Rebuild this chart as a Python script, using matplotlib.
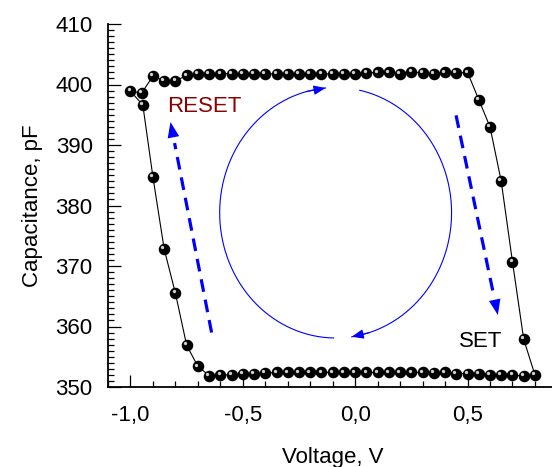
import numpy as np
from matplotlib import pyplot as plt
from matplotlib.ticker import MultipleLocator, FuncFormatter
from matplotlib.transforms import offset_copy

plt.rcParams['font.family'] = ['Liberation Sans', 'DejaVu Sans']

# C-V hysteresis loop (one full cycle).
voltage = [0.00, 0.05, 0.10, 0.15, 0.20, 0.25, 0.30, 0.35, 0.40, 0.45, 0.50,
           0.55, 0.60, 0.65, 0.70, 0.75, 0.80,
           0.75, 0.70, 0.65, 0.60, 0.55, 0.50, 0.45, 0.40, 0.35, 0.30, 0.25,
           0.20, 0.15, 0.10, 0.05, 0.00, -0.05, -0.10, -0.15, -0.20, -0.25,
           -0.30, -0.35, -0.40, -0.45, -0.50, -0.55, -0.60, -0.65,
           -0.70, -0.75, -0.80, -0.85, -0.90, -0.945, -1.00,
           -0.95, -0.90, -0.85, -0.80, -0.75, -0.70, -0.65, -0.60, -0.55,
           -0.50, -0.45, -0.40, -0.35, -0.30, -0.25, -0.20, -0.15, -0.10, -0.05]
capacitance = [401.8, 401.9, 402.0, 402.0, 401.7, 402.1, 401.9, 401.8, 402.0, 401.9, 402.0,
               397.5, 393.0, 384.0, 370.7, 357.9, 352.0,
               351.8, 352.0, 352.0, 352.0, 352.2, 352.2, 352.2, 352.4, 352.3, 352.4, 352.4,
               352.4, 352.4, 352.4, 352.4, 352.4, 352.4, 352.4, 352.4, 352.4, 352.4,
               352.4, 352.4, 352.3, 352.1, 352.2, 352.0, 352.0, 351.9,
               353.4, 356.9, 365.5, 372.8, 384.7, 396.6, 398.9,
               398.6, 401.4, 400.6, 400.6, 401.5, 401.8, 401.8, 401.8, 401.8,
               401.8, 401.7, 401.7, 401.8, 401.8, 401.8, 401.8, 401.8, 401.7, 401.7]

x_ticks = [-1.0, -0.5, 0.0, 0.5]
y_ticks = [350, 360, 370, 380, 390, 400, 410]

# Guide ellipse (centre, radii) and arrow ends for the annotations
loop_center = (-0.087, 378.8)
loop_radius = (0.516, 20.7)
reset_arrow = [(-0.639, 359.0), (-0.822, 393.8)]
set_arrow = [(0.449, 394.9), (0.635, 361.9)]

fig = plt.figure(figsize=(5.52, 4.67), dpi=100)
ax = fig.add_axes([108 / 552, 80 / 467, 449.4 / 552, 363 / 467])

# Plot data.
v_loop = np.append(voltage, voltage[0])
c_loop = np.append(capacitance, capacitance[0])
ax.plot(v_loop, c_loop, c='black', lw=0.8, zorder=3)
ax.plot(voltage, capacitance, 'o', ms=7.3, color='black', mec='black', zorder=4)
shine = offset_copy(ax.transData, fig=fig, x=-1.3, y=1.3, units='points')
ax.plot(voltage, capacitance, 'o', ms=2.4, color='#d0d0d0', mec='none',
        transform=shine, zorder=5)

# Clockwise guide loop drawn as two arcs, each ending in a small arrow.
for start, stop in [(269, 95), (78, -82)]:
    t = np.radians(np.linspace(start, stop, 200))
    xs = loop_center[0] + loop_radius[0] * np.cos(t)
    ys = loop_center[1] + loop_radius[1] * np.sin(t)
    ax.plot(xs, ys, c='blue', lw=0.8)
    ax.annotate('', xy=(xs[-1], ys[-1]), xytext=(xs[-12], ys[-12]),
                arrowprops=dict(arrowstyle='-|>,head_length=0.55,head_width=0.22',
                                color='blue', lw=0.8, mutation_scale=13,
                                shrinkA=0, shrinkB=0))

# Dashed RESET / SET arrows.
for (x0, y0), (x1, y1) in [reset_arrow, set_arrow]:
    ax.plot([x0, x0 + 0.9 * (x1 - x0)], [y0, y0 + 0.9 * (y1 - y0)],
            c='blue', lw=2.3, dashes=(4, 2.5))
    ax.annotate('', xy=(x1, y1), xytext=(x0 + 0.85 * (x1 - x0), y0 + 0.85 * (y1 - y0)),
                arrowprops=dict(arrowstyle='-|>,head_length=0.8,head_width=0.3',
                                color='blue', lw=0, mutation_scale=14,
                                shrinkA=0, shrinkB=0))

ax.text(-0.672, 396.3, 'RESET', color='#8b0000', fontsize=16, ha='center', va='center')
ax.text(0.559, 357.5, 'SET', color='black', fontsize=16, ha='center', va='center')

# Format plot.
ax.set_xlim(-1.1, 0.9)
ax.set_ylim(350, 410)
ax.set_xticks(x_ticks)
ax.set_yticks(y_ticks)
ax.xaxis.set_minor_locator(MultipleLocator(0.1))
ax.yaxis.set_minor_locator(MultipleLocator(1))
ax.xaxis.set_major_formatter(FuncFormatter(
    lambda x, pos: f'{0.0 if abs(x) < 1e-9 else x:.1f}'.replace('.', ',')))
ax.spines['top'].set_visible(False)
ax.spines['right'].set_visible(False)
ax.spines['left'].set_linewidth(1.3)
ax.spines['bottom'].set_linewidth(1.3)
ax.tick_params(which='major', direction='in', length=9, width=0.9, labelsize=16)
ax.tick_params(which='minor', direction='in', length=4.5, width=0.9)
ax.tick_params(axis='x', which='major', pad=13)
ax.tick_params(axis='y', which='major', pad=11)
ax.set_xlabel('Voltage, V', fontsize=16, labelpad=15)
ax.set_ylabel('Capacitance, pF', fontsize=16, labelpad=9)

fig.savefig('out.png', dpi=100)
